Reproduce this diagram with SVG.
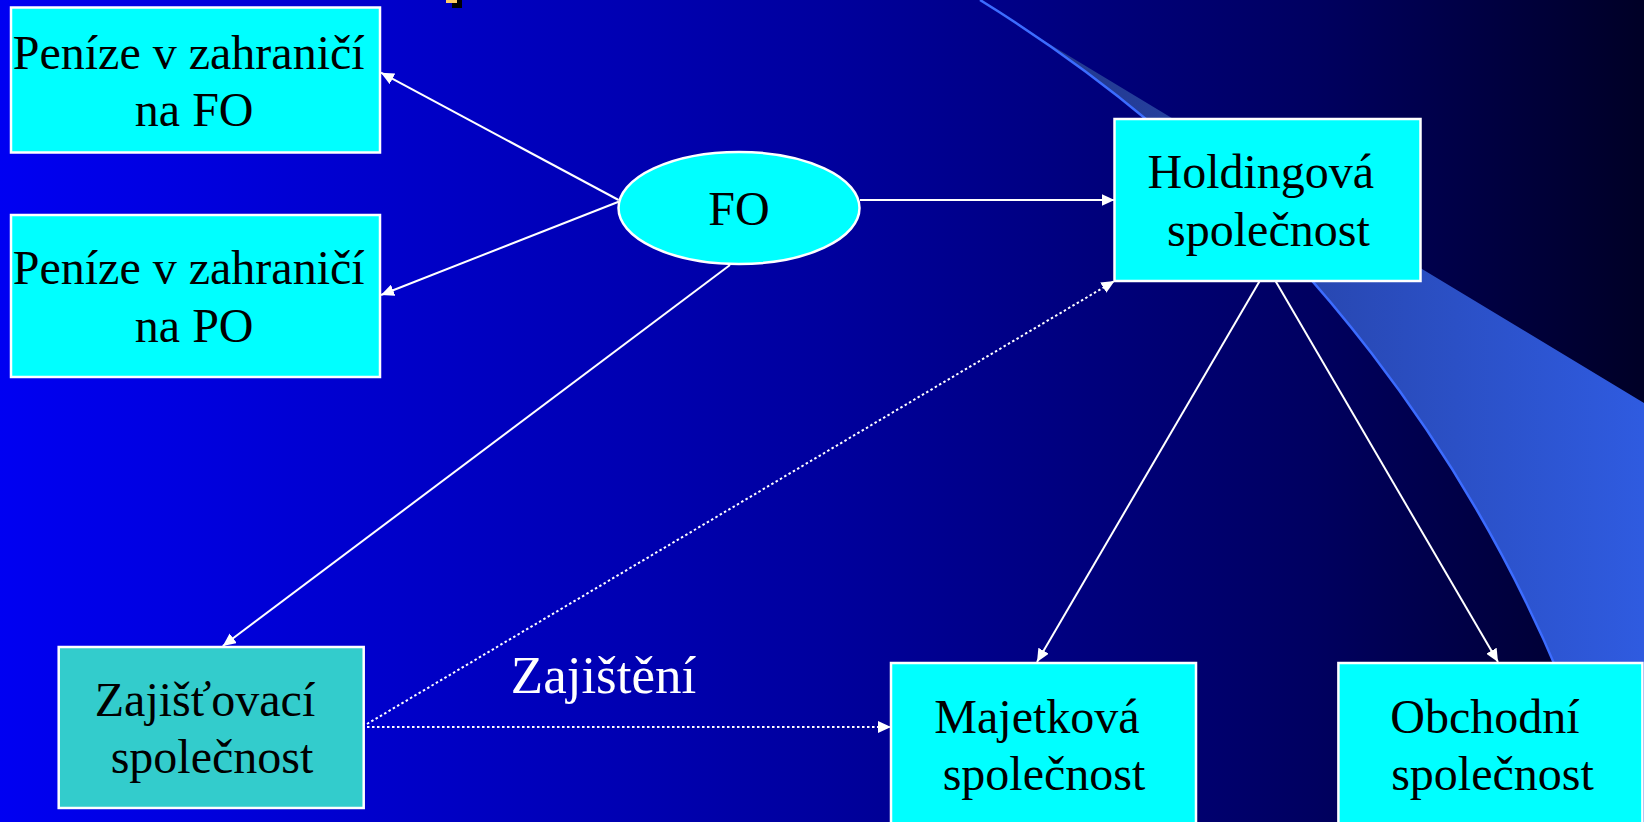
<svg xmlns="http://www.w3.org/2000/svg" width="1644" height="822" viewBox="0 0 1644 822">
<defs>
<linearGradient id="bg" x1="0" y1="0" x2="1644" y2="0" gradientUnits="userSpaceOnUse">
<stop offset="0" stop-color="#0000F2"/>
<stop offset="0.5" stop-color="#00009E"/>
<stop offset="0.8" stop-color="#000060"/>
<stop offset="1" stop-color="#000026"/>
</linearGradient>
<linearGradient id="band" x1="1030" y1="0" x2="1644" y2="0" gradientUnits="userSpaceOnUse">
<stop offset="0" stop-color="#22378A"/>
<stop offset="1" stop-color="#2F5BE0"/>
</linearGradient>
<marker id="arrow" viewBox="0 0 13 12" refX="13" refY="6" markerWidth="13" markerHeight="12" markerUnits="userSpaceOnUse" orient="auto">
<path d="M0,0 L13,6 L0,12 z" fill="#FFFFFF"/>
</marker>
<style>
.box{fill:#00FFFF;stroke:#FFFFFF;stroke-width:2.5}
.box2{fill:#33CCCC;stroke:#FFFFFF;stroke-width:2.5}
.t{font-family:"Liberation Serif","Times New Roman",serif;font-size:48px;fill:#000000;text-anchor:middle}
.lbl{font-family:"Liberation Serif","Times New Roman",serif;font-size:53px;fill:#FFFFFF;text-anchor:middle}
.c{stroke:#FFFFFF;stroke-width:2;fill:none;marker-end:url(#arrow)}
.d{stroke:#FFFFFF;stroke-width:2;fill:none;stroke-dasharray:2.5 2.5;marker-end:url(#arrow)}
</style>
</defs>
<rect x="0" y="0" width="1644" height="822" fill="url(#bg)"/>
<path d="M1031,33 L1644,403 L1644,822 L1612,822 A1461,1461 0 0 0 1031,33 Z" fill="url(#band)"/>
<path d="M980,0 A1461,1461 0 0 1 1612,822" fill="none" stroke="#3C6CFF" stroke-width="2.5"/>
<rect x="452" y="0" width="10" height="8" fill="#000000"/>
<rect x="446" y="0" width="11" height="3" fill="#FFCC66"/>
<g id="connectors">
<line class="c" x1="618.6" y1="200" x2="381" y2="72.7"/>
<line class="c" x1="618.6" y1="201.7" x2="381" y2="295"/>
<line class="c" x1="860" y1="200" x2="1114.5" y2="200"/>
<line class="c" x1="730" y1="265" x2="222.8" y2="646"/>
<line class="c" x1="1259.7" y1="281" x2="1037" y2="662"/>
<line class="c" x1="1275.5" y1="281" x2="1498" y2="662"/>
<line class="d" x1="367" y1="724" x2="1114.5" y2="281"/>
<line class="d" x1="367" y1="727" x2="891" y2="727"/>
<text class="lbl" x="603.5" y="692.7">Zajištění</text>
</g>
<g id="penize-fo">
<rect class="box" x="11" y="7.5" width="369" height="145"/>
<text class="t" x="188.7" y="69">Peníze v zahraničí</text>
<text class="t" x="194.2" y="126">na FO</text>
</g>
<g id="penize-po">
<rect class="box" x="11" y="215" width="369" height="162"/>
<text class="t" x="188.7" y="284.3">Peníze v zahraničí</text>
<text class="t" x="194.2" y="341.7">na PO</text>
</g>
<g id="fo">
<ellipse cx="739" cy="208" rx="120.5" ry="56" fill="#00FFFF" stroke="#FFFFFF" stroke-width="2.5"/>
<text class="t" x="739" y="225">FO</text>
</g>
<g id="holding">
<rect class="box" x="1114.5" y="119" width="306" height="162"/>
<text class="t" x="1260.8" y="188.3">Holdingová</text>
<text class="t" x="1268.4" y="246">společnost</text>
</g>
<g id="zajistovaci">
<rect class="box2" x="58.7" y="647" width="305" height="161"/>
<text class="t" x="205" y="716">Zajišťovací</text>
<text class="t" x="212" y="773.3">společnost</text>
</g>
<g id="majetkova">
<rect class="box" x="891" y="663" width="305" height="180"/>
<text class="t" x="1037" y="732.7">Majetková</text>
<text class="t" x="1044" y="790">společnost</text>
</g>
<g id="obchodni">
<rect class="box" x="1338.4" y="663" width="304" height="180"/>
<text class="t" x="1485" y="732.7">Obchodní</text>
<text class="t" x="1492.5" y="790">společnost</text>
</g>
</svg>
